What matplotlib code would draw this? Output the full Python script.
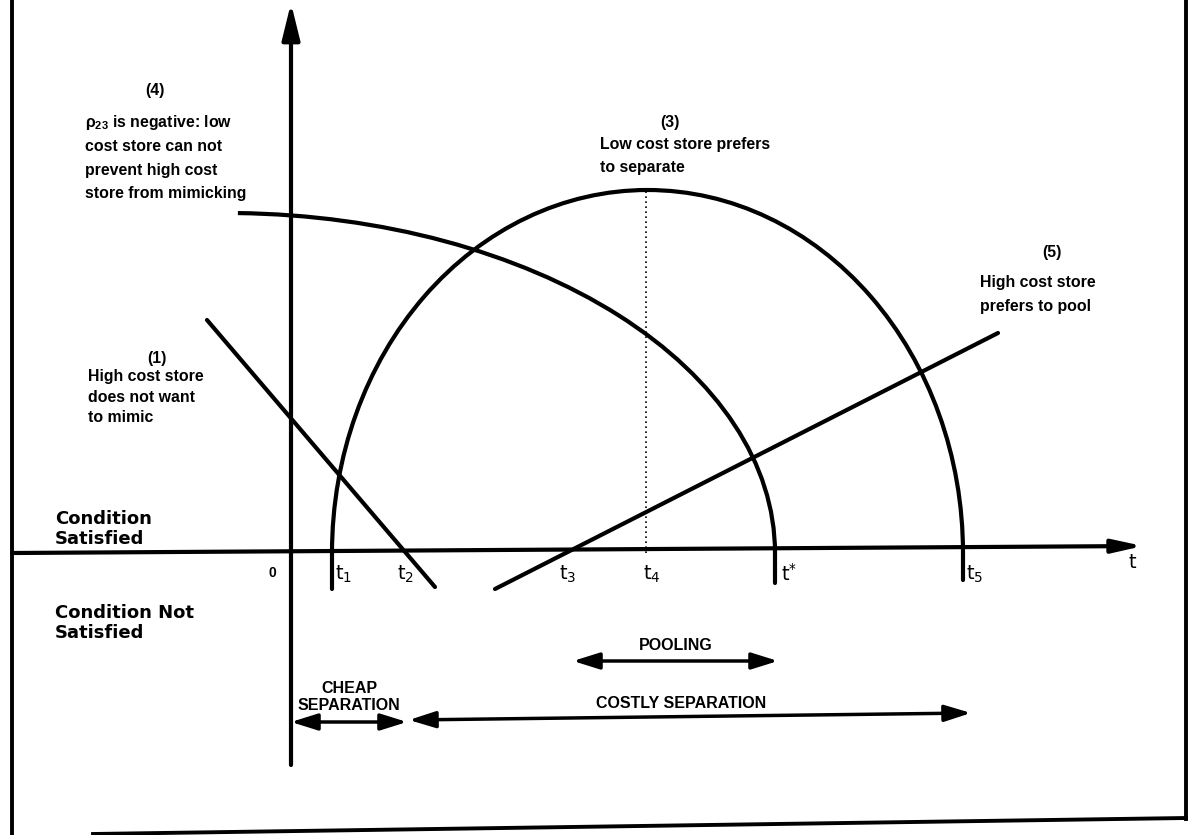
import numpy as np
import matplotlib.pyplot as plt
from matplotlib.patches import Arc

plt.rcParams['font.family'] = ['Liberation Sans', 'DejaVu Sans']
plt.rcParams['mathtext.fontset'] = 'custom'
plt.rcParams['mathtext.rm'] = 'Liberation Sans:bold'
plt.rcParams['mathtext.it'] = 'Liberation Sans:bold'
plt.rcParams['mathtext.bf'] = 'Liberation Sans:bold'

# ---------------------------------------------------------------------------
# diagram values (origin where the two axes cross)
# ---------------------------------------------------------------------------
tick_labels = [r'$\mathrm{t}_1$', r'$\mathrm{t}_2$', r'$\mathrm{t}_3$',
               r'$\mathrm{t}_4$', r'$\mathrm{t}^{*}$', r'$\mathrm{t}_5$']
tick_pos = [0.41, 1.13, 2.75, 3.55, 4.84, 6.72]

# (3) low cost store prefers to separate: half ellipse from t1 to t5
sep_center = 3.565
sep_rx = 3.155
sep_ry = 3.63

# (4) rho_23 negative: quarter ellipse coming down at t*
rho_center = -0.65
rho_rx = 5.49
rho_ry = 3.40
rho_start_deg = 88

# (1) high cost store does not want to mimic
mimic_t = [-0.84, 1.44]
mimic_v = [2.33, -0.34]

# (5) high cost store prefers to pool
pool_t = [2.04, 7.07]
pool_v = [-0.36, 2.20]

# curves carried on a little below the axis
below_t = [0.41, 4.84, 6.72]
below_v = [-0.36, -0.30, -0.27]

# regions under the axis
pool_span = [2.82, 4.87]
cheap_span = [0.0, 1.16]
costly_span = [1.18, 6.80]

LW = 3.0

fig = plt.figure(figsize=(11.93, 8.35), dpi=100)
ax = fig.add_axes([0, 0, 1, 1])
ax.set_xlim(-2.91, 9.02)
ax.set_ylim(-2.82, 5.53)
ax.axis('off')

# frame of the scanned figure
ax.plot([-2.79, -2.79], [5.6, -2.82], 'k-', lw=2.8)
ax.plot([8.95, 8.95], [5.6, -2.66], 'k-', lw=2.8)
ax.plot([-1.98, 8.95], [-2.81, -2.65], 'k-', lw=2.8)

# axes with arrow heads
ax.annotate('', xy=(0, 5.50), xytext=(0, -2.12),
            arrowprops=dict(arrowstyle='-|>,head_length=1.1,head_width=0.27',
                            lw=LW, color='k', mutation_scale=20,
                            shrinkA=0, shrinkB=0))
ax.annotate('', xy=(8.52, 0.07), xytext=(-2.79, 0),
            arrowprops=dict(arrowstyle='-|>,head_length=0.9,head_width=0.2',
                            lw=LW, color='k', mutation_scale=20,
                            shrinkA=0, shrinkB=0))

# curve (3)
ax.add_patch(Arc((sep_center, 0), 2 * sep_rx, 2 * sep_ry, theta1=0, theta2=180,
                 lw=LW, color='k'))
# curve (4)
ax.add_patch(Arc((rho_center, 0), 2 * rho_rx, 2 * rho_ry, theta1=0,
                 theta2=rho_start_deg, lw=LW, color='k'))
for t, v in zip(below_t, below_v):
    ax.plot([t, t], [0, v], 'k-', lw=LW, solid_capstyle='round')

# dotted line at t4 up to the top of (3)
ax.plot([tick_pos[3], tick_pos[3]], [0, sep_ry], color='k', lw=1.2, ls=(0, (1, 2)))

# straight lines (1) and (5)
ax.plot(mimic_t, mimic_v, 'k-', lw=LW, solid_capstyle='round')
ax.plot(pool_t, pool_v, 'k-', lw=LW, solid_capstyle='round')

# tick labels on the t axis
label_dx = [0.12, 0.02, 0.02, 0.06, 0.14, 0.12]
for lab, t, dx in zip(tick_labels, tick_pos, label_dx):
    ax.text(t + dx, -0.21, lab, fontsize=14, ha='center', va='center',
            math_fontfamily='dejavusans')
ax.text(-0.19, -0.20, '0', fontsize=10, fontweight='bold', ha='center', va='center')
ax.text(8.42, -0.10, r'$\mathrm{t}$', fontsize=14, ha='center', va='center',
        math_fontfamily='dejavusans')

FS = 11.4
def block(x, y, lines, ha='left', pitch=0.225):
    for i, s in enumerate(lines):
        ax.text(x, y - i * pitch, s, fontsize=FS, fontweight='bold',
                ha=ha, va='center')

# (4)
ax.text(-1.36, 4.63, '(4)', fontsize=FS, fontweight='bold', ha='center', va='center')
block(-2.06, 4.30, [r'$\rho_{23}$ is negative: low', 'cost store can not',
                    'prevent high cost', 'store from mimicking'], pitch=0.235)
# (3)
ax.text(3.79, 4.31, '(3)', fontsize=FS, fontweight='bold', ha='center', va='center')
block(3.09, 4.08, ['Low cost store prefers', 'to separate'])
# (5)
ax.text(7.61, 3.00, '(5)', fontsize=FS, fontweight='bold', ha='center', va='center')
block(6.89, 2.71, ['High cost store', 'prefers to pool'], pitch=0.25)
# (1)
ax.text(-1.34, 1.95, '(1)', fontsize=FS, fontweight='bold', ha='center', va='center')
block(-2.03, 1.76, ['High cost store', 'does not want', 'to mimic'], pitch=0.205)

# condition labels
ax.text(-2.36, 0.24, 'Condition\nSatisfied', fontsize=13, fontweight='bold',
        family='DejaVu Sans', ha='left', va='center', linespacing=1.15)
ax.text(-2.36, -0.70, 'Condition Not\nSatisfied', fontsize=13, fontweight='bold',
        family='DejaVu Sans', ha='left', va='center', linespacing=1.15)

# region arrows
dbl = dict(arrowstyle='<|-|>,head_length=0.8,head_width=0.25', lw=2.5, color='k',
           mutation_scale=20, shrinkA=0, shrinkB=0)
ax.annotate('', xy=(pool_span[1], -1.08), xytext=(pool_span[0], -1.08), arrowprops=dbl)
ax.annotate('', xy=(cheap_span[1], -1.69), xytext=(cheap_span[0], -1.69), arrowprops=dbl)
ax.annotate('', xy=(costly_span[1], -1.60), xytext=(costly_span[0], -1.67), arrowprops=dbl)

ax.text(3.85, -0.92, 'POOLING', fontsize=11.5, fontweight='bold', ha='center', va='center')
ax.text(0.58, -1.44, 'CHEAP\nSEPARATION', fontsize=11.5, fontweight='bold',
        ha='center', va='center', linespacing=1.1)
ax.text(3.90, -1.50, 'COSTLY SEPARATION', fontsize=11.5, fontweight='bold',
        ha='center', va='center')

fig.savefig('out.png', dpi=100)
